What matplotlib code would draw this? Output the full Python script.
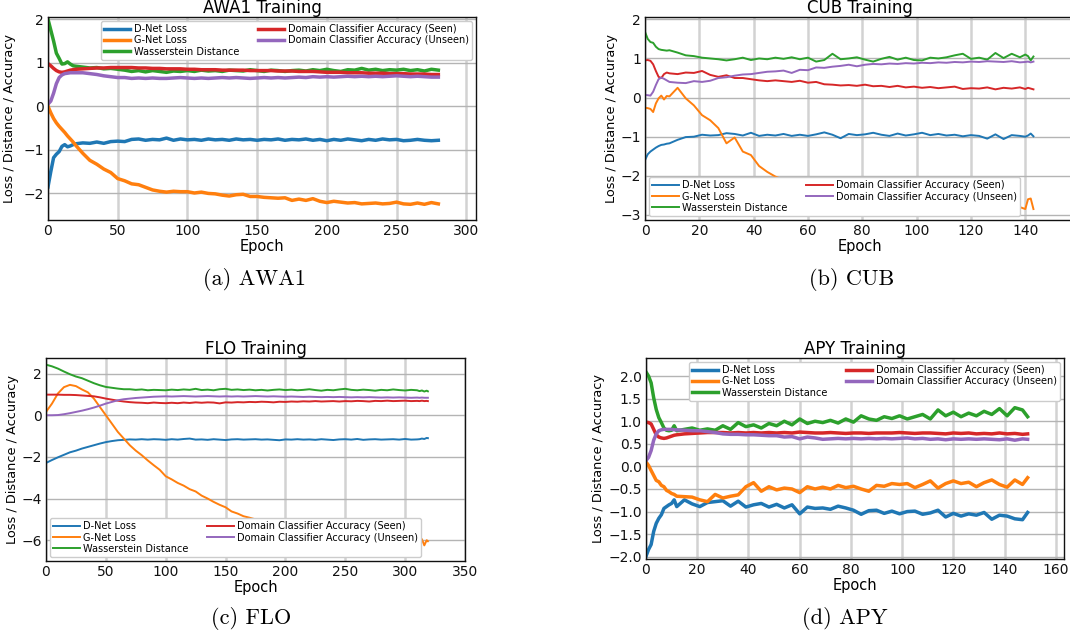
import numpy as np
import matplotlib
matplotlib.use("Agg")
import matplotlib.pyplot as plt
from matplotlib.ticker import MultipleLocator

# ---------------- data ----------------
labels = ["D-Net Loss", "G-Net Loss", "Wasserstein Distance",
          "Domain Classifier Accuracy (Seen)", "Domain Classifier Accuracy (Unseen)"]
colors = ["#1f77b4", "#ff7f0e", "#2ca02c", "#d62728", "#9467bd"]

# AWA1
x_awa = [0, 2, 4, 6, 8, 10, 12, 14, 16, 18, 20,
         25, 30, 35, 40, 45, 50, 55, 60, 65, 70,
         75, 80, 85, 90, 95, 100, 105, 110, 115, 120,
         125, 130, 135, 140, 145, 150, 155, 160, 165, 170,
         175, 180, 185, 190, 195, 200, 205, 210, 215, 220,
         225, 230, 235, 240, 245, 250, 255, 260, 265, 270,
         275, 280]
awa_d = [-1.85, -1.50, -1.18, -1.10, -1.04, -0.92, -0.88, -0.93, -0.91, -0.88, -0.86,
         -0.84, -0.85, -0.82, -0.85, -0.81, -0.80, -0.81, -0.76, -0.75, -0.78,
         -0.76, -0.77, -0.73, -0.78, -0.75, -0.77, -0.76, -0.78, -0.75, -0.77,
         -0.76, -0.78, -0.75, -0.77, -0.76, -0.78, -0.76, -0.77, -0.75, -0.78,
         -0.76, -0.77, -0.75, -0.78, -0.76, -0.79, -0.76, -0.78, -0.75, -0.77,
         -0.79, -0.76, -0.78, -0.75, -0.77, -0.76, -0.79, -0.78, -0.76, -0.78,
         -0.79, -0.78]
awa_g = [0.00, -0.15, -0.28, -0.38, -0.46, -0.53, -0.60, -0.68, -0.75, -0.82, -0.90,
         -1.08, -1.24, -1.33, -1.44, -1.52, -1.66, -1.71, -1.78, -1.80, -1.86,
         -1.92, -1.95, -1.97, -1.95, -1.96, -1.96, -1.99, -1.97, -2.00, -2.01,
         -2.04, -2.06, -2.03, -2.02, -2.07, -2.07, -2.09, -2.10, -2.11, -2.10,
         -2.16, -2.13, -2.16, -2.12, -2.18, -2.21, -2.18, -2.20, -2.22, -2.21,
         -2.24, -2.23, -2.22, -2.24, -2.23, -2.20, -2.24, -2.25, -2.22, -2.25,
         -2.21, -2.24]
awa_w = [2.00, 1.75, 1.50, 1.22, 1.10, 0.97, 0.98, 1.02, 0.97, 0.93, 0.92,
         0.90, 0.88, 0.89, 0.86, 0.87, 0.85, 0.83, 0.80, 0.82, 0.79,
         0.82, 0.80, 0.78, 0.81, 0.80, 0.82, 0.80, 0.83, 0.81, 0.82,
         0.80, 0.83, 0.82, 0.81, 0.84, 0.82, 0.80, 0.83, 0.82, 0.80,
         0.82, 0.83, 0.81, 0.84, 0.82, 0.85, 0.82, 0.80, 0.84, 0.83,
         0.87, 0.83, 0.85, 0.82, 0.84, 0.83, 0.85, 0.82, 0.84, 0.81,
         0.85, 0.83]
awa_s = [0.98, 0.93, 0.87, 0.82, 0.79, 0.78, 0.79, 0.81, 0.83, 0.84, 0.85,
         0.86, 0.87, 0.88, 0.88, 0.89, 0.89, 0.89, 0.89, 0.88, 0.88,
         0.87, 0.87, 0.86, 0.86, 0.86, 0.85, 0.85, 0.84, 0.84, 0.84,
         0.83, 0.83, 0.83, 0.83, 0.82, 0.82, 0.82, 0.82, 0.81, 0.81,
         0.81, 0.80, 0.80, 0.80, 0.79, 0.78, 0.78, 0.78, 0.77, 0.77,
         0.77, 0.76, 0.76, 0.76, 0.75, 0.75, 0.75, 0.74, 0.74, 0.74,
         0.73, 0.73]
awa_u = [0.05, 0.12, 0.30, 0.52, 0.66, 0.72, 0.75, 0.76, 0.77, 0.77, 0.77,
         0.77, 0.75, 0.73, 0.70, 0.68, 0.66, 0.66, 0.64, 0.65, 0.64,
         0.65, 0.64, 0.64, 0.65, 0.66, 0.65, 0.64, 0.65, 0.64, 0.65,
         0.66, 0.65, 0.66, 0.65, 0.64, 0.65, 0.66, 0.65, 0.66, 0.65,
         0.66, 0.67, 0.66, 0.68, 0.67, 0.68, 0.67, 0.68, 0.69, 0.68,
         0.69, 0.68, 0.69, 0.68, 0.69, 0.70, 0.69, 0.68, 0.69, 0.68,
         0.67, 0.67]

# CUB
x_cub = [0, 1, 2, 3, 4, 5, 6, 7, 8,
         9, 12, 15, 18, 21, 24, 27, 30, 33, 36,
         39, 42, 45, 48, 51, 54, 57, 60, 63, 66,
         69, 72, 75, 78, 81, 84, 87, 90, 93, 96,
         99, 102, 105, 108, 111, 114, 117, 120, 123, 126,
         129, 132, 135, 138,
         140, 141, 142, 143]
cub_d = [-1.60, -1.45, -1.38, -1.33, -1.28, -1.24, -1.21, -1.20, -1.18,
         -1.17, -1.08, -1.01, -1.00, -0.95, -0.97, -0.96, -0.91, -0.93, -0.97,
         -0.90, -0.98, -0.95, -0.97, -0.93, -0.98, -0.95, -0.98, -0.94, -0.89,
         -0.95, -1.04, -0.93, -0.96, -0.94, -0.90, -0.95, -0.98, -0.92, -0.97,
         -0.94, -0.90, -0.96, -0.93, -0.97, -0.95, -0.99, -0.96, -0.98, -1.05,
         -0.94, -1.06, -0.96, -0.98,
         -1.00, -0.97, -0.92, -0.99]
cub_g = [-0.26, -0.27, -0.29, -0.37, -0.15, -0.02, 0.05, -0.05, 0.04,
         0.03, 0.25, -0.02, -0.20, -0.45, -0.58, -0.78, -1.17, -1.02, -1.38,
         -1.47, -1.75, -1.90, -2.02, -2.10, -2.18, -2.15, -2.25, -2.30, -2.28,
         -2.35, -2.40, -2.38, -2.45, -2.42, -2.50, -2.48, -2.55, -2.52, -2.58,
         -2.55, -2.62, -2.60, -2.65, -2.62, -2.68, -2.66, -2.72, -2.70, -2.75,
         -2.72, -2.78, -2.75, -2.80,
         -2.85, -2.60, -2.58, -2.85]
cub_w = [1.68, 1.50, 1.42, 1.40, 1.30, 1.24, 1.22, 1.21, 1.20,
         1.21, 1.15, 1.08, 1.06, 1.02, 1.00, 0.98, 0.95, 0.98, 1.02,
         0.96, 1.00, 0.98, 1.02, 0.99, 1.03, 0.98, 1.02, 0.92, 0.96,
         1.12, 0.98, 1.00, 1.03, 0.97, 0.92, 0.99, 1.04, 0.97, 1.02,
         0.96, 0.95, 1.02, 1.00, 1.03, 1.08, 1.12, 0.99, 1.02, 0.97,
         1.14, 1.01, 1.12, 1.03,
         1.10, 1.06, 0.95, 1.05]
cub_s = [0.95, 0.96, 0.94, 0.85, 0.68, 0.53, 0.50, 0.60, 0.64,
         0.62, 0.60, 0.64, 0.63, 0.68, 0.58, 0.53, 0.57, 0.50, 0.50,
         0.47, 0.44, 0.42, 0.44, 0.42, 0.40, 0.43, 0.38, 0.40, 0.34,
         0.33, 0.31, 0.32, 0.30, 0.33, 0.29, 0.30, 0.27, 0.30, 0.26,
         0.28, 0.25, 0.27, 0.24, 0.26, 0.28, 0.22, 0.24, 0.23, 0.26,
         0.21, 0.25, 0.23, 0.26,
         0.22, 0.25, 0.23, 0.21]
cub_u = [0.07, 0.06, 0.05, 0.15, 0.32, 0.47, 0.51, 0.48, 0.44,
         0.40, 0.38, 0.37, 0.42, 0.40, 0.43, 0.50, 0.52, 0.56, 0.59,
         0.60, 0.63, 0.66, 0.67, 0.69, 0.63, 0.71, 0.70, 0.77, 0.76,
         0.79, 0.81, 0.84, 0.80, 0.84, 0.86, 0.85, 0.87, 0.86, 0.88,
         0.87, 0.89, 0.88, 0.90, 0.89, 0.91, 0.90, 0.92, 0.91, 0.93,
         0.92, 0.91, 0.93, 0.90,
         0.91, 0.92, 0.90, 0.92]

# FLO
x_flo = [0, 5, 10, 15, 20, 25, 30, 35, 40, 45,
         50, 55, 60, 65, 70, 75, 80, 85, 90, 95,
         100, 105, 110, 115, 120, 125, 130, 135, 140, 145,
         150, 155, 160, 165, 170, 175, 180, 185, 190, 195,
         200, 205, 210, 215, 220, 225, 230, 235, 240, 245,
         250, 255, 260, 265, 270, 275, 280, 285, 290, 295,
         300, 305, 310, 312, 314, 316, 318, 319]
flo_d = [-2.29, -2.15, -2.02, -1.90, -1.78, -1.70, -1.60, -1.52, -1.44, -1.36,
         -1.29, -1.24, -1.20, -1.18, -1.16, -1.17, -1.15, -1.17, -1.15, -1.16,
         -1.18, -1.15, -1.17, -1.14, -1.12, -1.17, -1.16, -1.18, -1.15, -1.17,
         -1.19, -1.16, -1.15, -1.17, -1.16, -1.15, -1.17, -1.16, -1.18, -1.20,
         -1.16, -1.17, -1.15, -1.17, -1.16, -1.18, -1.15, -1.17, -1.19, -1.16,
         -1.15, -1.17, -1.14, -1.18, -1.16, -1.15, -1.17, -1.16, -1.15, -1.17,
         -1.14, -1.17, -1.16, -1.15, -1.12, -1.14, -1.09, -1.10]
flo_g = [0.16, 0.56, 1.05, 1.35, 1.46, 1.40, 1.24, 1.10, 0.80, 0.40,
         0.00, -0.40, -0.80, -1.12, -1.44, -1.70, -1.92, -2.17, -2.40, -2.62,
         -2.93, -3.08, -3.25, -3.38, -3.55, -3.66, -3.86, -4.00, -4.16, -4.30,
         -4.42, -4.62, -4.72, -4.85, -4.92, -5.00, -5.08, -5.12, -5.20, -5.25,
         -5.30, -5.35, -5.40, -5.45, -5.48, -5.52, -5.55, -5.60, -5.62, -5.66,
         -5.70, -5.72, -5.75, -5.78, -5.80, -5.83, -5.85, -5.88, -5.90, -5.92,
         -5.95, -5.96, -5.98, -6.20, -5.95, -6.25, -6.00, -6.05]
flo_w = [2.43, 2.35, 2.24, 2.10, 1.97, 1.86, 1.78, 1.66, 1.54, 1.44,
         1.36, 1.32, 1.28, 1.25, 1.25, 1.22, 1.24, 1.20, 1.22, 1.21,
         1.20, 1.23, 1.21, 1.24, 1.22, 1.27, 1.21, 1.23, 1.20, 1.25,
         1.27, 1.22, 1.24, 1.21, 1.23, 1.20, 1.22, 1.19, 1.22, 1.24,
         1.21, 1.23, 1.20, 1.22, 1.25, 1.21, 1.18, 1.22, 1.20, 1.24,
         1.27, 1.22, 1.20, 1.23, 1.21, 1.18, 1.22, 1.20, 1.24, 1.21,
         1.19, 1.22, 1.20, 1.16, 1.19, 1.14, 1.18, 1.15]
flo_s = [0.99, 0.99, 0.99, 0.98, 0.98, 0.97, 0.95, 0.93, 0.91, 0.86,
         0.80, 0.75, 0.70, 0.66, 0.63, 0.61, 0.60, 0.58, 0.61, 0.59,
         0.58, 0.60, 0.58, 0.61, 0.59, 0.62, 0.60, 0.62, 0.61, 0.57,
         0.62, 0.61, 0.63, 0.62, 0.64, 0.63, 0.65, 0.64, 0.62, 0.65,
         0.64, 0.66, 0.65, 0.67, 0.66, 0.68, 0.66, 0.67, 0.68, 0.66,
         0.68, 0.67, 0.69, 0.68, 0.66, 0.69, 0.68, 0.70, 0.68, 0.69,
         0.70, 0.68, 0.69, 0.68, 0.70, 0.68, 0.69, 0.68]
flo_u = [0.00, 0.00, 0.01, 0.05, 0.10, 0.16, 0.22, 0.29, 0.37, 0.46,
         0.56, 0.64, 0.72, 0.77, 0.80, 0.83, 0.85, 0.87, 0.89, 0.90,
         0.91, 0.90, 0.91, 0.92, 0.91, 0.90, 0.91, 0.92, 0.91, 0.90,
         0.91, 0.90, 0.91, 0.90, 0.91, 0.92, 0.91, 0.90, 0.91, 0.90,
         0.89, 0.90, 0.89, 0.88, 0.89, 0.88, 0.87, 0.88, 0.87, 0.88,
         0.87, 0.86, 0.87, 0.86, 0.87, 0.86, 0.85, 0.86, 0.85, 0.86,
         0.85, 0.84, 0.85, 0.84, 0.85, 0.84, 0.84, 0.84]

# APY
x_apy = [0, 1, 2, 3, 4, 5, 6, 7, 8, 9, 10, 11,
         12, 15, 18, 21, 24, 27, 30, 33, 36, 39,
         42, 45, 48, 51, 54, 57, 60, 63, 66, 69,
         72, 75, 78, 81, 84, 87, 90, 93, 96, 99,
         102, 105, 108, 111, 114, 117, 120, 123, 126, 129,
         132, 135, 138, 141, 144, 147, 149]
apy_d = [-1.99, -1.84, -1.73, -1.44, -1.26, -1.15, -1.07, -0.93, -0.89, -0.85, -0.82, -0.74,
         -0.89, -0.74, -0.83, -0.89, -0.80, -0.78, -0.76, -0.88, -0.77, -0.90,
         -0.85, -0.82, -0.90, -0.84, -0.92, -0.85, -1.05, -0.90, -0.93, -0.92,
         -0.95, -0.88, -0.92, -0.97, -1.06, -0.98, -0.97, -1.04, -0.99, -1.05,
         -1.00, -0.99, -1.06, -1.03, -0.97, -1.12, -1.04, -1.10, -1.05, -1.08,
         -1.02, -1.17, -1.08, -1.10, -1.16, -1.18, -1.02]
apy_g = [0.10, 0.02, -0.09, -0.20, -0.31, -0.34, -0.42, -0.45, -0.53, -0.56, -0.60, -0.62,
         -0.66, -0.67, -0.68, -0.74, -0.78, -0.62, -0.70, -0.66, -0.63, -0.45,
         -0.36, -0.55, -0.45, -0.52, -0.48, -0.50, -0.58, -0.45, -0.50, -0.46,
         -0.50, -0.42, -0.47, -0.44, -0.50, -0.55, -0.42, -0.44, -0.38, -0.40,
         -0.38, -0.47, -0.40, -0.32, -0.48, -0.38, -0.32, -0.38, -0.35, -0.45,
         -0.36, -0.30, -0.40, -0.46, -0.30, -0.40, -0.25]
apy_w = [2.09, 2.00, 1.85, 1.52, 1.26, 1.08, 0.97, 0.85, 0.80, 0.79, 0.80, 0.90,
         0.79, 0.82, 0.85, 0.80, 0.83, 0.80, 0.90, 0.82, 0.97, 0.88,
         0.92, 0.85, 0.95, 0.90, 1.00, 0.92, 1.05, 0.95, 1.00, 0.97,
         1.02, 0.96, 1.05, 0.98, 1.12, 1.05, 1.02, 1.10, 1.06, 1.12,
         1.05, 1.10, 1.15, 1.05, 1.25, 1.12, 1.20, 1.10, 1.18, 1.12,
         1.22, 1.15, 1.28, 1.12, 1.30, 1.25, 1.10]
apy_s = [0.98, 0.97, 0.94, 0.82, 0.70, 0.65, 0.63, 0.62, 0.63, 0.65, 0.67, 0.69,
         0.70, 0.72, 0.73, 0.74, 0.75, 0.75, 0.75, 0.74, 0.75, 0.74,
         0.75, 0.74, 0.75, 0.74, 0.75, 0.74, 0.76, 0.75, 0.74, 0.74,
         0.75, 0.74, 0.73, 0.74, 0.74, 0.73, 0.74, 0.74, 0.74, 0.75,
         0.74, 0.73, 0.74, 0.74, 0.73, 0.72, 0.74, 0.73, 0.74, 0.72,
         0.73, 0.72, 0.74, 0.72, 0.73, 0.71, 0.72]
apy_u = [0.13, 0.20, 0.35, 0.58, 0.72, 0.79, 0.81, 0.82, 0.82, 0.82, 0.82, 0.81,
         0.81, 0.80, 0.79, 0.79, 0.77, 0.75, 0.72, 0.71, 0.71, 0.70,
         0.70, 0.69, 0.68, 0.68, 0.65, 0.66, 0.61, 0.65, 0.63, 0.60,
         0.61, 0.62, 0.61, 0.62, 0.61, 0.62, 0.61, 0.62, 0.61, 0.62,
         0.63, 0.61, 0.62, 0.60, 0.61, 0.59, 0.61, 0.60, 0.61, 0.60,
         0.61, 0.60, 0.59, 0.61, 0.58, 0.61, 0.60]

# ---------------- figure ----------------
W, H = 1070, 635
fig = plt.figure(figsize=(W / 100, H / 100), dpi=100)


def rect(l, t, r, b):
    return [l / W, 1 - b / H, (r - l) / W, (b - t) / H]


def panel(box, x, ys, title, lw, xlim, ylim, xstep, ystep, legloc, ylabelpad):
    ax = fig.add_axes(rect(*box))
    for y, c, lab in zip(ys, colors, labels):
        ax.plot(x, y, color=c, lw=lw, label=lab)
    ax.set_xlim(*xlim)
    ax.set_ylim(*ylim)
    ax.xaxis.set_major_locator(MultipleLocator(xstep))
    ax.yaxis.set_major_locator(MultipleLocator(ystep))
    ax.set_axisbelow(True)
    ax.xaxis.grid(True, color="#d2d2d2", lw=1.8)
    ax.yaxis.grid(True, color="#b4b4b4", lw=1.0)
    for sp in ax.spines.values():
        sp.set_color("#111111")
        sp.set_linewidth(1.0)
    ax.tick_params(length=0, pad=3, labelsize=10, colors="#111111")
    ax.set_title(title, fontsize=12, pad=1.5)
    ax.set_xlabel("Epoch", fontsize=10.5, labelpad=0.5)
    ax.set_ylabel("Loss / Distance / Accuracy", fontsize=9.3, labelpad=ylabelpad)
    ax.legend(loc=legloc, ncol=2, fontsize=7, handlelength=2.7,
              handletextpad=0.4, columnspacing=1.9, labelspacing=0.12,
              borderpad=0.3, borderaxespad=0.45, framealpha=1.0,
              edgecolor="#cccccc")
    return ax


panel((48, 17, 476, 220), x_awa, [awa_d, awa_g, awa_w, awa_s, awa_u], "AWA1 Training",
      2.5, (0, 307), (-2.61, 2.05), 50, 1, "upper right", 5)
panel((645, 17, 1075, 220), x_cub, [cub_d, cub_g, cub_w, cub_s, cub_u], "CUB Training",
      1.4, (0, 158.3), (-3.13, 2.06), 20, 1, "lower left", 2)
panel((46, 358, 465, 561), x_flo, [flo_d, flo_g, flo_w, flo_s, flo_u], "FLO Training",
      1.4, (0, 350), (-7.0, 2.75), 50, 2, "lower left", 2)
panel((646, 358, 1064, 559), x_apy, [apy_d, apy_g, apy_w, apy_s, apy_u], "APY Training",
      2.5, (0, 163.2), (-2.05, 2.40), 20, 0.5, "upper right", 2)

cap = dict(family="cmr10", fontsize=16, ha="center", va="center")
fig.text(254 / W, 1 - 279 / H, "(a) AWA1", **cap)
fig.text(852 / W, 1 - 279 / H, "(b) CUB", **cap)
fig.text(251 / W, 1 - 618 / H, "(c) FLO", **cap)
fig.text(845 / W, 1 - 618 / H, "(d) APY", **cap)

fig.savefig("out.png", dpi=100)
